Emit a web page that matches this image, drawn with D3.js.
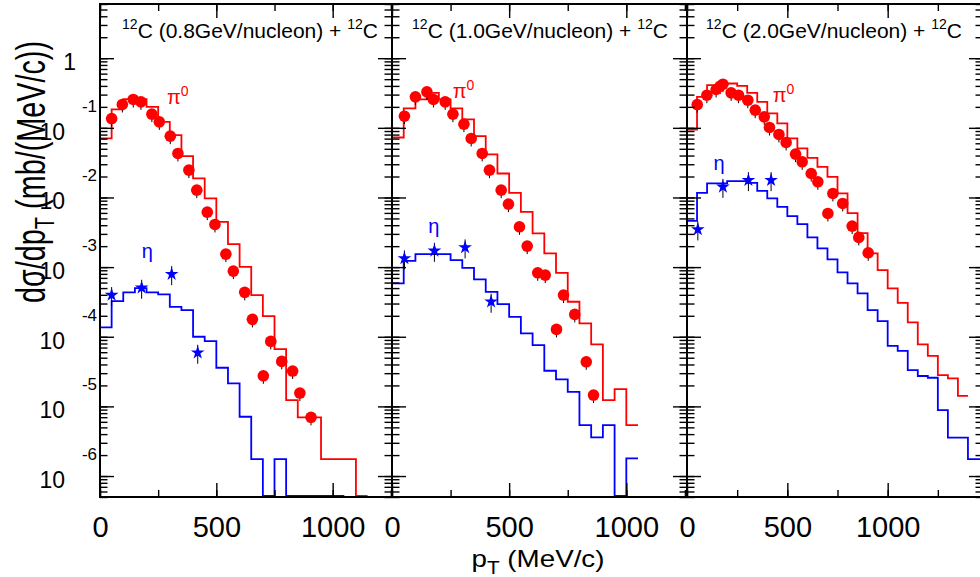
<!DOCTYPE html>
<html>
<head>
<meta charset="utf-8">
<script src="https://cdn.jsdelivr.net/npm/d3@7"></script>
<style>
  html, body { margin: 0; padding: 0; background: #fff; }
  svg { display: block; font-family: "Liberation Sans", Arial, Helvetica, sans-serif; }
</style>
</head>
<body>
<svg id="chart" width="980" height="577"></svg>
<script>
// measured points: pT (MeV/c) and dsigma/dpT (mb/(MeV/c))
const pi0Pt08 = [50, 96, 143, 176, 223, 255, 302, 335, 382, 416, 461, 494, 541, 573, 622, 655, 702, 734, 781, 828, 859, 907];
const pi0Val08 = [0.136, 0.2165, 0.2554, 0.2359, 0.1571, 0.1219, 0.076, 0.0429, 0.0247, 0.01274, 0.00616, 0.0041, 0.001537, 8.76e-4, 4.34e-4, 1.777e-4, 2.75e-5, 8.58e-5, 4.43e-5, 3.22e-5, 1.554e-5, 6.97e-6];
const etaPt08 = [50, 179, 308, 420];
const etaVal08 = [3.97e-4, 5.05e-4, 7.93e-4, 5.89e-5];

const pi0Pt10 = [53, 100, 149, 177, 227, 260, 307, 338, 385, 416, 466, 497, 544, 577, 622, 654, 702, 732, 780, 829, 860];
const pi0Val10 = [0.147, 0.2786, 0.3283, 0.2554, 0.2359, 0.1571, 0.1129, 0.0704, 0.0429, 0.0247, 0.01274, 0.00802, 0.00379, 0.002002, 8.29e-4, 7.68e-4, 1.276e-4, 3.97e-4, 2.095e-4, 4.37e-5, 1.455e-5];
const etaPt10 = [53, 181, 312, 423];
const etaVal10 = [1.334e-3, 1.714e-3, 1.92e-3, 3.18e-4];

const pi0Pt20 = [51, 99, 145, 165, 179, 220, 257, 303, 340, 385, 411, 458, 494, 541, 574, 619, 652, 702, 727, 776, 823, 856, 903];
const pi0Val20 = [0.216, 0.294, 0.3554, 0.3963, 0.4233, 0.3177, 0.294, 0.2495, 0.1793, 0.1437, 0.1012, 0.0803, 0.0617, 0.0419, 0.0325, 0.0221, 0.0168, 0.0059, 0.01143, 0.00821, 0.00388, 0.00267, 0.001605];
const etaPt20 = [54, 179, 306, 419];
const etaVal20 = [0.003476, 0.01421, 0.01773, 0.01773];

// model histograms, 50 MeV/c bins starting at 0 (0 = empty bin)
const binWidth = 50;
const pi0Hist08 = [0.0704, 0.1835, 0.258, 0.258, 0.2, 0.1219, 0.0785, 0.0392, 0.0188, 0.0097, 0.00447, 0.00214, 0.00101, 3.97e-4, 1.98e-4, 6.65e-5, 1.23e-5, 6.97e-6, 6.97e-6, 1.75e-6, 1.75e-6, 1.75e-6, 0];
const etaHist08 = [1.36e-4, 3.25e-4, 4.34e-4, 5.0e-4, 4.34e-4, 4.06e-4, 2.69e-4, 2.41e-4, 1.0e-4, 8.67e-5, 3.59e-5, 2.14e-5, 7.1e-6, 1.75e-6, 0, 1.75e-6, 0, 0, 0, 0, 0];
const pi0Hist10 = [0.0727, 0.1897, 0.2554, 0.3177, 0.2554, 0.1897, 0.1319, 0.076, 0.0415, 0.0221, 0.01166, 0.00622, 0.00305, 0.001573, 8.29e-4, 3.18e-4, 1.556e-4, 7.78e-5, 1.233e-5, 1.774e-5, 5.4e-6];
const etaHist10 = [5.84e-4, 1.232e-3, 1.538e-3, 1.538e-3, 1.538e-3, 1.26e-3, 9.78e-4, 6.66e-4, 4.42e-4, 2.95e-4, 1.935e-4, 1.119e-4, 7.6e-5, 3.25e-5, 2.45e-5, 1.62e-5, 5.4e-6, 3.6e-6, 5.4e-6, 0, 1.79e-6];
const pi0Hist20 = [0.0947, 0.278, 0.41, 0.4334, 0.4334, 0.4003, 0.3176, 0.2359, 0.1608, 0.1155, 0.0704, 0.0506, 0.037, 0.02753, 0.01978, 0.01143, 0.00596, 0.003077, 0.001573, 9.06e-4, 4.95e-4, 3.07e-4, 1.609e-4, 7.77e-5, 5.33e-5, 2.82e-5, 2.53e-5, 1.42e-5];
const etaHist20 = [0.00462, 0.01166, 0.0159, 0.0159, 0.01716, 0.01716, 0.01622, 0.01245, 0.00969, 0.00734, 0.0054, 0.00414, 0.00267, 0.001856, 0.00129, 8.39e-4, 5.84e-4, 4.19e-4, 2.41e-4, 1.68e-4, 7.42e-5, 6.29e-5, 3.32e-5, 2.73e-5, 2.58e-5, 8.86e-6, 3.55e-6, 3.55e-6, 1.75e-6, 1.75e-6];

const energies = ["0.8", "1.0", "2.0"];
const xLabelTicks = [0, 500, 1000];
const yLabelExponents = [0, 1, 2, 3, 4, 5, 6];
const yDomain = [5e-7, 6];

const red = "#ff0000", blue = "#0000ff";
const frameTop = 4, frameBottom = 497;

const panels = [
  { x0: 100, x1: 392, xMax: 1255, titleX: 250,
    pi0: { pt: pi0Pt08, val: pi0Val08, hist: pi0Hist08 },
    eta: { pt: etaPt08, val: etaVal08, hist: etaHist08 },
    piLabel: [288, 0.222], etaLabel: [179, 1.36e-3] },
  { x0: 392, x1: 687, xMax: 1259, titleX: 540,
    pi0: { pt: pi0Pt10, val: pi0Val10, hist: pi0Hist10 },
    eta: { pt: etaPt10, val: etaVal10, hist: etaHist10 },
    piLabel: [259, 0.271], etaLabel: [155, 3.05e-3] },
  { x0: 687, x1: 983, xMax: 1475, titleX: 834,
    pi0: { pt: pi0Pt20, val: pi0Val20, hist: pi0Hist20 },
    eta: { pt: etaPt20, val: etaVal20, hist: etaHist20 },
    piLabel: [427, 0.236], etaLabel: [132, 0.0245] }
];

const svg = d3.select("#chart");
const defs = svg.append("defs");
const y = d3.scaleLog().domain(yDomain).range([frameBottom, frameTop]);

const yAll = y.ticks();
const yMajor = yAll.filter((t) => Math.abs(Math.log10(t) - Math.round(Math.log10(t))) < 1e-6);

function tickAxis(g, axis, transform) {
  const a = g.append("g").attr("transform", transform).call(axis);
  a.select(".domain").remove();
  a.selectAll("text").remove();
  a.selectAll("line").attr("stroke", "#000").attr("stroke-width", 1.4);
}

const points = (s) => s.pt.map((t, k) => [t, s.val[k]]);
const steps = (vals) => vals.map((v, k) => [k * binWidth, v]).concat([[vals.length * binWidth, vals[vals.length - 1]]]);

panels.forEach((p, i) => {
  const x = d3.scaleLinear().domain([0, p.xMax]).range([p.x0, p.x1]);
  const g = svg.append("g");

  defs.append("clipPath").attr("id", `clip${i}`)
    .append("rect")
    .attr("x", p.x0).attr("y", frameTop)
    .attr("width", p.x1 - p.x0).attr("height", frameBottom - frameTop);

  const plot = g.append("g").attr("clip-path", `url(#clip${i})`);

  const line = d3.line()
    .curve(d3.curveStepAfter)
    .x((d) => x(d[0]))
    .y((d) => (d[1] > 0 ? y(d[1]) : frameBottom - 1));

  [[p.eta.hist, blue], [p.pi0.hist, red]].forEach(([vals, c]) => {
    plot.append("path")
      .attr("d", line(steps(vals)))
      .attr("fill", "none")
      .attr("stroke", c)
      .attr("stroke-width", 1.8);
  });

  // error bars (mostly hidden behind the markers)
  plot.append("g").selectAll("line")
    .data(points(p.pi0))
    .join("line")
    .attr("x1", (d) => x(d[0])).attr("x2", (d) => x(d[0]))
    .attr("y1", (d) => y(d[1]) - 5).attr("y2", (d) => y(d[1]) + 8)
    .attr("stroke", "#000").attr("stroke-width", 1);

  plot.append("g").selectAll("line")
    .data(points(p.eta))
    .join("line")
    .attr("x1", (d) => x(d[0])).attr("x2", (d) => x(d[0]))
    .attr("y1", (d) => y(d[1]) - 8).attr("y2", (d) => y(d[1]) + 11)
    .attr("stroke", "#000").attr("stroke-width", 1);

  plot.append("g").selectAll("circle")
    .data(points(p.pi0))
    .join("circle")
    .attr("cx", (d) => x(d[0]))
    .attr("cy", (d) => y(d[1]))
    .attr("r", 5.8)
    .attr("fill", red);

  plot.append("g").selectAll("path")
    .data(points(p.eta))
    .join("path")
    .attr("d", d3.symbol(d3.symbolStar, 58))
    .attr("transform", (d) => `translate(${x(d[0])},${y(d[1])})`)
    .attr("fill", blue);

  // curve labels
  const pl = plot.append("text")
    .attr("x", x(p.piLabel[0])).attr("y", y(p.piLabel[1]))
    .attr("fill", red).attr("font-size", 20);
  pl.append("tspan").text("\u03c0");
  pl.append("tspan").attr("dy", -8).attr("font-size", 14).text("0");

  plot.append("text")
    .attr("x", x(p.etaLabel[0])).attr("y", y(p.etaLabel[1]))
    .attr("fill", blue).attr("font-size", 20)
    .text("\u03b7");

  // ticks, all pointing into the frame
  const xAll = d3.range(0, p.xMax + 1, 250);
  const xMajor = xAll.filter((t) => t % 500 === 0);
  tickAxis(g, d3.axisRight(y).tickValues(yAll).tickSize(7.5), `translate(${p.x0},0)`);
  tickAxis(g, d3.axisRight(y).tickValues(yMajor).tickSize(14), `translate(${p.x0},0)`);
  tickAxis(g, d3.axisLeft(y).tickValues(yAll).tickSize(7.5), `translate(${p.x1},0)`);
  tickAxis(g, d3.axisLeft(y).tickValues(yMajor).tickSize(14), `translate(${p.x1},0)`);
  tickAxis(g, d3.axisTop(x).tickValues(xAll).tickSize(7), `translate(0,${frameBottom})`);
  tickAxis(g, d3.axisTop(x).tickValues(xMajor).tickSize(14), `translate(0,${frameBottom})`);
  tickAxis(g, d3.axisBottom(x).tickValues(xAll).tickSize(7), `translate(0,${frameTop})`);
  tickAxis(g, d3.axisBottom(x).tickValues(xMajor).tickSize(14), `translate(0,${frameTop})`);

  g.append("rect")
    .attr("x", p.x0).attr("y", frameTop)
    .attr("width", p.x1 - p.x0).attr("height", frameBottom - frameTop)
    .attr("fill", "none").attr("stroke", "#000").attr("stroke-width", 2);

  // x tick labels
  const xl = g.append("g")
    .attr("transform", `translate(0,${frameBottom})`)
    .call(d3.axisBottom(x)
      .tickValues(xLabelTicks.filter((t) => t <= p.xMax))
      .tickFormat(d3.format("d"))
      .tickSize(0).tickPadding(19));
  xl.select(".domain").remove();
  xl.attr("font-family", null).attr("font-size", null);
  xl.selectAll("text").attr("font-size", 29).attr("fill", "#000");

  // panel title
  const t = g.append("text")
    .attr("x", p.titleX).attr("y", 38)
    .attr("text-anchor", "middle")
    .attr("font-size", 21);
  t.append("tspan").attr("font-size", 14).attr("dy", -9).text("12");
  t.append("tspan").attr("dy", 9).text(`C (${energies[i]}GeV/nucleon) + `);
  t.append("tspan").attr("font-size", 14).attr("dy", -9).text("12");
  t.append("tspan").attr("dy", 9).text("C");
});

// y tick labels (first panel only)
const yl = svg.append("g").attr("font-size", 23);
yLabelExponents.forEach((k) => {
  const ty = y(Math.pow(10, -k));
  if (k === 0) {
    yl.append("text").attr("x", 76).attr("y", ty + 12).attr("text-anchor", "end").text("1");
  } else {
    yl.append("text").attr("x", 65).attr("y", ty + 12).attr("text-anchor", "end").text("10");
    yl.append("text").attr("x", 97).attr("y", ty - 16).attr("text-anchor", "end")
      .attr("font-size", 17).text(`-${k}`);
  }
});

// axis titles
const xt = svg.append("text")
  .attr("x", 538).attr("y", 567)
  .attr("text-anchor", "middle")
  .attr("font-size", 24)
  .attr("textLength", 133).attr("lengthAdjust", "spacingAndGlyphs");
xt.append("tspan").text("p");
xt.append("tspan").attr("font-size", 18).attr("dy", 7).text("T");
xt.append("tspan").attr("dy", -7).text(" (MeV/c)");

const ytt = svg.append("text")
  .attr("transform", "translate(45,172) rotate(-90)")
  .attr("text-anchor", "middle")
  .attr("font-size", 40)
  .attr("textLength", 262).attr("lengthAdjust", "spacingAndGlyphs");
ytt.append("tspan").text("d\u03c3/dp");
ytt.append("tspan").attr("font-size", 28).attr("dy", 9).text("T");
ytt.append("tspan").attr("dy", -9).text(" (mb/(MeV/c))");
</script>
</body>
</html>
